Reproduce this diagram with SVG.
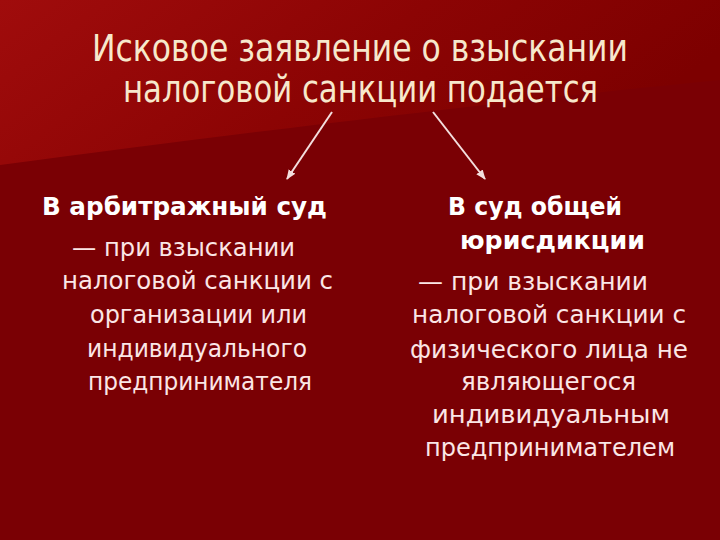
<svg xmlns="http://www.w3.org/2000/svg" width="720" height="540" viewBox="0 0 720 540">
  <defs>
    <linearGradient id="band" x1="0" y1="0" x2="1" y2="0.3">
      <stop offset="0" stop-color="#a00c0c"/>
      <stop offset="0.55" stop-color="#8c0404"/>
      <stop offset="1" stop-color="#7d0000"/>
    </linearGradient>
    <marker id="arr" viewBox="0 0 10 10" refX="9" refY="5" markerWidth="5" markerHeight="5" orient="auto" markerUnits="strokeWidth">
      <path d="M0,1 L10,5 L0,9 Z" fill="#f3dede"/>
    </marker>
    <style>
      .title { font-family: "DejaVu Sans Condensed", "DejaVu Sans", "Liberation Sans", sans-serif; font-size: 38px; fill: #f7e8cc; }
      .head { font-family: "DejaVu Sans", "Liberation Sans", sans-serif; font-size: 25px; font-weight: bold; fill: #ffffff; }
      .body { font-family: "DejaVu Sans", "Liberation Sans", sans-serif; font-size: 24px; fill: #fbe6e6; }
      .conn { stroke: #f3dede; stroke-width: 2; fill: none; marker-end: url(#arr); }
    </style>
  </defs>
  <rect width="720" height="540" fill="#7a0004"/>
  <path d="M0,0 H720 V80 C520,100 300,125 0,165 Z" fill="url(#band)"/>

  <g id="title">
    <text class="title" x="92" y="61" textLength="536" lengthAdjust="spacingAndGlyphs">Исковое заявление о взыскании</text>
    <text class="title" x="123" y="102" textLength="475" lengthAdjust="spacingAndGlyphs">налоговой санкции подается</text>
  </g>

  <g id="connectors">
    <line class="conn" x1="332" y1="112" x2="287" y2="179"/>
    <line class="conn" x1="433" y1="112" x2="485" y2="179"/>
  </g>

  <g id="arbitration">
    <text class="head" x="42" y="215" textLength="285" lengthAdjust="spacingAndGlyphs">В арбитражный суд</text>
    <text class="body" x="72" y="256" textLength="223" lengthAdjust="spacingAndGlyphs">— при взыскании</text>
    <text class="body" x="62" y="289" textLength="271" lengthAdjust="spacingAndGlyphs">налоговой санкции с</text>
    <text class="body" x="90" y="323" textLength="217" lengthAdjust="spacingAndGlyphs">организации или</text>
    <text class="body" x="87" y="357" textLength="220" lengthAdjust="spacingAndGlyphs">индивидуального</text>
    <text class="body" x="88" y="390" textLength="224" lengthAdjust="spacingAndGlyphs">предпринимателя</text>
  </g>

  <g id="general">
    <text class="head" x="448" y="215" textLength="174" lengthAdjust="spacingAndGlyphs">В суд общей</text>
    <text class="head" x="460" y="249" textLength="185" lengthAdjust="spacingAndGlyphs">юрисдикции</text>
    <text class="body" x="418" y="290" textLength="230" lengthAdjust="spacingAndGlyphs">— при взыскании</text>
    <text class="body" x="412" y="323" textLength="274" lengthAdjust="spacingAndGlyphs">налоговой санкции с</text>
    <text class="body" x="410" y="358" textLength="278" lengthAdjust="spacingAndGlyphs">физического лица не</text>
    <text class="body" x="461" y="390" textLength="175" lengthAdjust="spacingAndGlyphs">являющегося</text>
    <text class="body" x="432" y="423" textLength="238" lengthAdjust="spacingAndGlyphs">индивидуальным</text>
    <text class="body" x="425" y="456" textLength="250" lengthAdjust="spacingAndGlyphs">предпринимателем</text>
  </g>
</svg>
